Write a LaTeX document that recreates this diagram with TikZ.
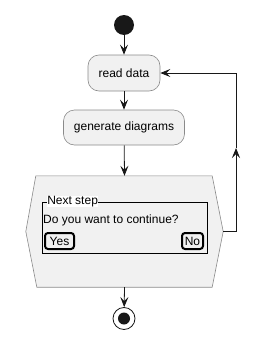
\documentclass[tikz,border=0pt]{standalone}
\usepackage{fontspec}
\setmainfont{Liberation Sans}
\usetikzlibrary{arrows.meta,positioning}
\definecolor{actfill}{HTML}{F1F1F1}
\definecolor{actline}{HTML}{181818}
\definecolor{actedge}{HTML}{8A8A8A}

\begin{document}
\begin{tikzpicture}[x=1pt,y=-1pt,
    font=\fontsize{12}{14}\selectfont,
    action/.style={draw=actedge, fill=actfill, line width=0.6pt, rounded corners=11pt,
        minimum height=36pt, inner xsep=10pt},
    flow/.style={draw=actline, line width=0.8pt, -{Stealth[length=10pt,width=8pt,inset=4pt]}},
    button/.style={draw=black, line width=2pt, rounded corners=3pt, inner sep=1pt,
        minimum height=16pt}]
    \useasboundingbox (0,0) rectangle (269,348);

    % start and actions
    \node[circle, fill=actline, minimum size=20pt, inner sep=0pt] (start) at (124,25) {};
    \node[action, minimum width=72pt] (read) at (124,73) {read data};
    \node[action, minimum width=121pt, minimum height=35pt] (gen) at (124,127.5) {generate diagrams};

    % decision hexagon
    \node[minimum width=197pt, minimum height=111pt, inner sep=0pt] (hex) at (124.5,231.5) {};
    \draw[draw=actedge, fill=actfill, line width=0.6pt]
        ([xshift=10pt]hex.north west) -- ([xshift=-11pt]hex.north east) -- (hex.east)
        -- ([xshift=-11pt]hex.south east) -- ([xshift=11pt]hex.south west) -- (hex.west) -- cycle;

    % form inside the hexagon
    \node[draw=black, line width=0.9pt, minimum width=165pt, minimum height=51pt, inner sep=0pt]
        (form) at (124.5,227.5) {};
    \node[fill=white, inner sep=0.5pt, anchor=west] (title) at ([xshift=5pt]form.north west) {Next step};
    \node[anchor=west, inner sep=0pt] (ask) at (43,220) {Do you want to continue?};
    \node[button, minimum width=29pt] (yes) at (59.5,241) {Yes};
    \node[button, minimum width=21pt] (no) at (192.5,241) {No};

    % stop
    \node[circle, draw=actline, fill=white, line width=0.8pt, minimum size=22pt, inner sep=0pt] (stop) at (124,318.5) {};
    \node[circle, fill=actline, minimum size=12pt, inner sep=0pt] (stopdot) at (stop) {};

    % flows
    \draw[flow] (start) -- (read);
    \draw[flow] (read) -- (gen);
    \draw[flow] (gen) -- (hex.north);
    \draw[flow] (hex.south) -- (stop);

    % loop back
    \coordinate (loopmid) at (236,148);
    \draw[flow] (hex.east) -| (loopmid);
    \draw[flow] (loopmid) |- (read.east);
\end{tikzpicture}
\end{document}
